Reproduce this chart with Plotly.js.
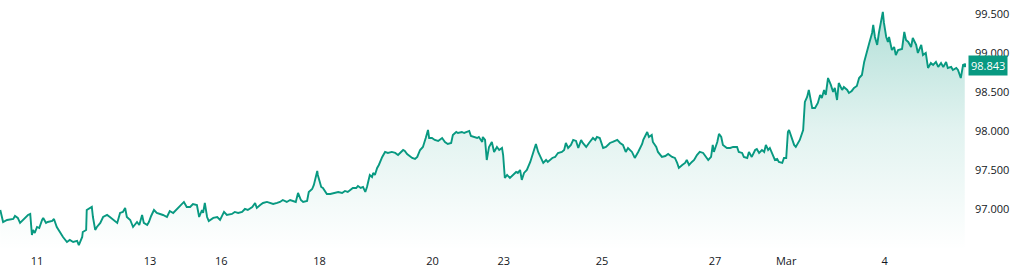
<!DOCTYPE html>
<html>
<head>
<meta charset="utf-8">
<script src="https://cdn.plot.ly/plotly-3.0.1.min.js"></script>
<style>html,body{margin:0;padding:0;background:#fff;}#chart{width:1024px;height:280px;}</style>
</head>
<body>
<div id="chart"></div>
<script>
// time in trading days since Feb 11 (weekend gaps removed)
const tradingDay = [
  -0.65,-0.60,-0.53,-0.42,-0.39,-0.34,-0.30,-0.25,-0.19,-0.16,-0.12,-0.09,-0.07,-0.04,0,0.04,0.09,0.11,0.16,0.19,0.27,0.30,0.35,0.41,0.46,0.53,0.58,0.64,0.71,0.74,0.80,0.81,0.87,0.88,0.92,0.97,0.99,1.03,1.06,1.12,1.17,1.24,1.29,1.35,1.42,1.47,1.52,1.56,1.59,1.65,1.70,1.77,1.81,1.86,1.89,1.95,1.98,2.02,2.07,2.12,2.18,
  2.23,2.30,2.35,2.41,2.48,2.53,2.60,2.65,2.71,2.76,2.83,2.87,2.92,2.94,2.97,3.01,3.04,3.12,3.19,3.24,3.31,3.36,3.45,3.50,3.56,3.63,3.68,3.73,3.81,3.86,3.89,3.95,4.00,4.07,4.12,4.18,4.25,4.30,4.35,4.42,4.48,4.53,4.58,4.62,4.67,4.71,4.78,4.81,4.87,4.90,4.96,4.97,5.03,
  5.06,5.13,5.19,5.27,5.33,5.40,5.45,5.50,5.58,5.59,5.65,5.68,5.73,5.77,5.81,5.84,5.89,5.93,5.95,5.98,6.02,6.05,6.11,6.16,6.21,6.28,6.34,6.39,6.48,6.51,6.55,6.60,6.64,6.69,6.73,6.78,6.83,6.88,6.92,6.94,6.99,7.04,7.10,7.17,7.22,7.27,7.33,7.36,7.42,7.45,7.52,7.56,7.61,7.65,7.68,7.72,7.79,7.82,7.88,
  7.89,7.93,7.96,8.00,8.05,8.09,8.14,8.18,8.23,8.25,8.28,8.32,8.37,8.42,8.48,8.51,8.55,8.58,8.62,8.67,8.73,8.78,8.83,8.87,8.92,8.96,9.01,9.04,9.12,9.17,9.22,9.29,9.33,9.36,9.40,9.45,9.49,9.54,9.58,9.63,9.66,9.72,9.77,9.84,9.88,9.91,9.96,10.02,10.07,10.14,10.19,10.27,10.32,10.37,10.42,10.46,10.53,10.58,10.64,10.71,
  10.73,10.76,10.80,10.83,10.88,10.90,10.96,10.99,11.06,11.12,11.17,11.24,11.29,11.33,11.36,11.42,11.47,11.50,11.54,11.59,11.63,11.68,11.73,11.79,11.84,11.88,11.93,11.96,11.98,12.04,12.07,12.11,12.14,12.21,12.27,12.32,12.39,12.42,12.48,12.51,12.57,12.60,12.65,12.71,12.74,12.78,12.83,12.87,12.90,12.94,12.97,13.03,13.06,13.10,13.13,13.19,13.22,13.26,13.29,13.31,13.36,13.40,13.43,13.47,13.50,13.56,13.59,
  13.63,13.66,13.72,13.77,13.82,13.86,13.89,13.93,13.96,14.00,14.05,14.09,14.12,14.16,14.19,14.25,14.28,14.34,14.37,14.42,14.46,14.51,14.55,14.60,14.64,14.69,14.73,14.78,14.80,14.83,14.87,14.90,14.94,14.97,14.99,15.03,15.06,15.08,15.13,15.17,15.20,15.24,15.31,15.35,15.38,15.42,15.47,15.50,15.56,15.59,15.65,15.68,15.73,15.77,15.82,15.86,15.91,15.95,16.00,16.04,16.09,16.12,16.18,16.21,16.27,16.30,16.35,16.39,16.42
];
const dxyValue = [
  96.987,96.833,96.859,96.872,96.910,96.885,96.821,96.859,96.897,96.923,96.936,96.667,96.731,96.692,96.769,96.756,96.859,96.885,96.821,96.833,96.846,96.872,96.769,96.692,96.641,96.577,96.603,96.577,96.590,96.538,96.641,96.705,96.731,96.987,97.000,97.026,96.897,96.731,96.769,96.821,96.897,96.923,96.897,96.859,96.821,96.949,96.962,97.013,96.897,96.859,96.769,96.833,96.795,96.923,96.821,96.795,96.833,96.910,96.987,96.949,96.936,
  96.923,96.897,96.974,96.949,97.000,97.026,97.090,97.026,97.026,97.064,97.051,96.897,96.987,96.949,97.077,96.897,96.846,96.885,96.897,96.859,96.962,96.923,96.936,96.962,96.949,96.962,97.000,96.987,97.026,97.077,97.013,97.051,97.077,97.090,97.077,97.064,97.077,97.090,97.115,97.090,97.115,97.103,97.090,97.205,97.115,97.090,97.103,97.218,97.256,97.308,97.487,97.436,97.282,
  97.269,97.192,97.192,97.205,97.218,97.205,97.231,97.218,97.256,97.269,97.269,97.295,97.269,97.282,97.218,97.282,97.436,97.410,97.462,97.436,97.526,97.564,97.667,97.731,97.718,97.731,97.718,97.692,97.756,97.744,97.705,97.679,97.654,97.641,97.667,97.756,97.795,97.910,98.013,97.910,97.910,97.885,97.872,97.910,97.859,97.833,97.846,97.949,97.987,97.974,97.987,97.974,97.987,98.000,97.936,97.923,97.910,97.923,97.859,
  97.923,97.885,97.628,97.795,97.859,97.731,97.795,97.756,97.782,97.692,97.397,97.436,97.397,97.436,97.474,97.462,97.500,97.372,97.462,97.500,97.603,97.718,97.833,97.731,97.654,97.590,97.628,97.603,97.654,97.667,97.718,97.731,97.756,97.846,97.782,97.821,97.885,97.872,97.782,97.885,97.846,97.795,97.846,97.910,97.885,97.923,97.910,97.782,97.795,97.846,97.859,97.885,97.846,97.821,97.731,97.782,97.731,97.654,97.731,97.833,
  97.885,97.923,97.987,97.923,97.949,97.859,97.795,97.731,97.667,97.679,97.705,97.667,97.654,97.590,97.526,97.564,97.590,97.628,97.564,97.603,97.628,97.692,97.731,97.718,97.667,97.628,97.667,97.821,97.731,97.859,97.962,97.923,97.821,97.782,97.782,97.795,97.795,97.731,97.718,97.667,97.654,97.731,97.667,97.756,97.769,97.718,97.756,97.731,97.821,97.756,97.782,97.667,97.628,97.641,97.603,97.590,97.654,97.654,97.987,98.013,97.910,97.821,97.795,97.846,97.885,98.013,98.372,
  98.436,98.526,98.295,98.295,98.359,98.462,98.423,98.526,98.462,98.679,98.590,98.500,98.551,98.397,98.615,98.526,98.564,98.526,98.487,98.513,98.551,98.577,98.679,98.718,98.885,99.038,99.128,99.256,99.359,99.205,99.103,99.256,99.423,99.526,99.385,99.205,99.141,99.205,99.038,99.077,98.974,99.038,99.051,99.269,99.167,99.141,99.077,99.192,99.103,99.000,99.103,98.974,99.000,98.808,98.872,98.846,98.885,98.821,98.872,98.821,98.885,98.808,98.821,98.782,98.808,98.782,98.679,98.846,98.843
];
const dayTickPos = [0, 2, 3.26, 5, 7, 8.26, 10, 12, 13.26, 15];
const dayTickText = ['11', '13', '16', '18', '20', '23', '25', '27', 'Mar', '4'];
const priceTicks = [97.0, 97.5, 98.0, 98.5, 99.0, 99.5];
const lastPrice = 98.843;

const green = '#089981';
const lastT = tradingDay[tradingDay.length - 1];

const traces = [
  {
    x: tradingDay, y: dxyValue, type: 'scatter', mode: 'lines',
    line: {color: green, width: 1.9},
    fill: 'tozeroy',
    fillgradient: {
      type: 'vertical', start: 96.47, stop: 99.6,
      colorscale: [[0, 'rgba(8,153,129,0.0)'], [0.5, 'rgba(8,153,129,0.12)'], [1, 'rgba(8,153,129,0.32)']]
    },
    hoverinfo: 'skip'
  },
  {
    x: [lastT], y: [lastPrice], type: 'scatter', mode: 'markers',
    marker: {color: green, size: 4}, hoverinfo: 'skip'
  }
];

const layout = {
  width: 1024, height: 280,
  margin: {l: 0, r: 58, t: 0, b: 30},
  paper_bgcolor: '#ffffff', plot_bgcolor: '#ffffff',
  showlegend: false,
  font: {family: '"Open Sans", Roboto, sans-serif', size: 11, color: '#131722'},
  xaxis: {
    range: [-0.655, 16.442], showgrid: false, zeroline: false, showline: false,
    tickmode: 'array', tickvals: dayTickPos, ticktext: dayTickText,
    ticks: '', ticklabelstandoff: 3, tickfont: {size: 11, color: '#131722'}, fixedrange: true
  },
  yaxis: {
    side: 'right', range: [96.474, 99.679], showgrid: false, zeroline: false, showline: false,
    tickmode: 'array', tickvals: priceTicks, tickformat: '.3f',
    ticks: '', ticklabelstandoff: 8, tickfont: {size: 11, color: '#131722'}, fixedrange: true
  },
  annotations: [{
    xref: 'paper', x: 1, xanchor: 'left', yref: 'y', y: lastPrice, yanchor: 'middle',
    text: lastPrice.toFixed(3), showarrow: false, xshift: 2,
    bgcolor: green, borderpad: 2, font: {color: '#ffffff', size: 11}
  }]
};

Plotly.newPlot('chart', traces, layout, {staticPlot: true, displayModeBar: false});
</script>
</body>
</html>
